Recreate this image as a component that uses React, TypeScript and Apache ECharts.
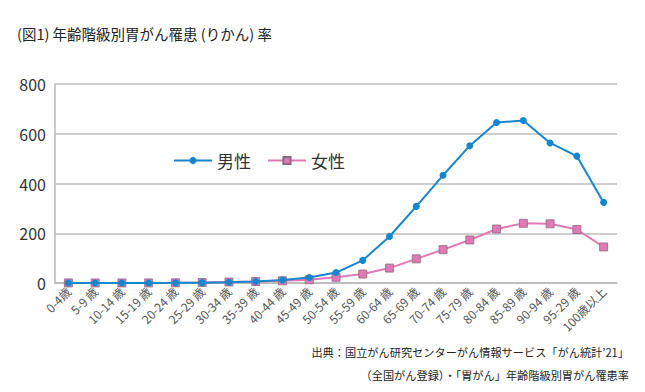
import React, { useEffect, useRef } from "react";
import * as echarts from "echarts";

const categories = [
  "0-4歳", "5-9 歳", "10-14 歳", "15-19 歳", "20-24 歳", "25-29 歳", "30-34 歳",
  "35-39 歳", "40-44 歳", "45-49 歳", "50-54 歳", "55-59 歳", "60-64 歳", "65-69 歳",
  "70-74 歳", "75-79 歳", "80-84 歳", "85-89 歳", "90-94 歳", "95-29 歳", "100歳以上",
];
const maleValues = [0.3, 0.2, 0.2, 0.3, 0.6, 1.5, 3, 6, 12, 22, 42, 91, 187, 308, 433, 552, 645, 653, 563, 510, 324];
const femaleValues = [0.3, 0.2, 0.2, 0.3, 0.7, 2, 4, 6, 9, 13, 23, 36, 60, 97, 134, 173, 217, 240, 238, 215, 145];
const yTicks = [0, 200, 400, 600, 800];

const FONT = "'Noto Sans CJK JP', 'Noto Sans', sans-serif";

export default function App() {
  const ref = useRef<HTMLDivElement>(null);
  useEffect(() => {
    if (!ref.current) return;
    const chart = echarts.init(ref.current, undefined, { renderer: "svg" });
    chart.setOption({
      animation: false,
      backgroundColor: "#ffffff",
      textStyle: { fontFamily: FONT },
      title: {
        text: "(図1) 年齢階級別胃がん罹患 (りかん) 率",
        left: 12,
        top: 21,
        textStyle: { fontSize: 14.5, fontWeight: "normal", color: "#222", fontFamily: FONT },
      },
      legend: {
        left: 168,
        top: 147,
        itemWidth: 38,
        itemHeight: 9,
        itemGap: 16,
        textStyle: { fontSize: 17, color: "#333", fontFamily: FONT },
        data: ["男性", "女性"],
      },
      grid: { left: 55, right: 28, top: 84, bottom: 109, containLabel: false },
      xAxis: {
        type: "category",
        data: categories,
        boundaryGap: true,
        axisLine: { show: true, lineStyle: { color: "#b8b8b8", width: 1.5 } },
        axisTick: { show: false },
        axisLabel: {
          rotate: 45,
          interval: 0,
          fontSize: 12,
          color: "#555",
          margin: 6,
          fontFamily: FONT,
        },
      },
      yAxis: {
        type: "value",
        min: 0,
        max: 800,
        interval: 200,
        axisLine: { show: true, lineStyle: { color: "#b8b8b8", width: 1.5 } },
        axisTick: { show: false },
        axisLabel: {
          fontSize: 16,
          color: "#333",
          margin: 9,
          fontFamily: FONT,
          formatter: (v: number) => (yTicks.includes(v) ? String(v) : ""),
        },
        splitLine: { lineStyle: { color: "#bdbdbd", width: 1.5 } },
      },
      series: [
        {
          name: "男性",
          type: "line",
          data: maleValues,
          symbol: "circle",
          symbolSize: 7,
          lineStyle: { color: "#1886cc", width: 2 },
          itemStyle: { color: "#1886cc" },
          z: 3,
        },
        {
          name: "女性",
          type: "line",
          data: femaleValues,
          symbol: "rect",
          symbolSize: 8,
          lineStyle: { color: "#e07ab4", width: 2 },
          itemStyle: { color: "#e07ab4", borderColor: "#8a6a80", borderWidth: 0.8 },
          z: 2,
        },
      ],
      graphic: [
        {
          type: "text",
          right: 16,
          top: 346,
          style: {
            text: "出典：国立がん研究センターがん情報サービス「がん統計’21」",
            fontSize: 11.2,
            fill: "#222",
            fontFamily: FONT,
          },
        },
        {
          type: "text",
          right: 16,
          top: 369,
          style: {
            text: "（全国がん登録）・「胃がん」年齢階級別胃がん罹患率",
            fontSize: 11.2,
            fill: "#222",
            fontFamily: FONT,
          },
        },
      ],
    });
    return () => chart.dispose();
  }, []);
  return <div ref={ref} style={{ width: 645, height: 392, position: "absolute", left: 0, top: 0 }} />;
}
